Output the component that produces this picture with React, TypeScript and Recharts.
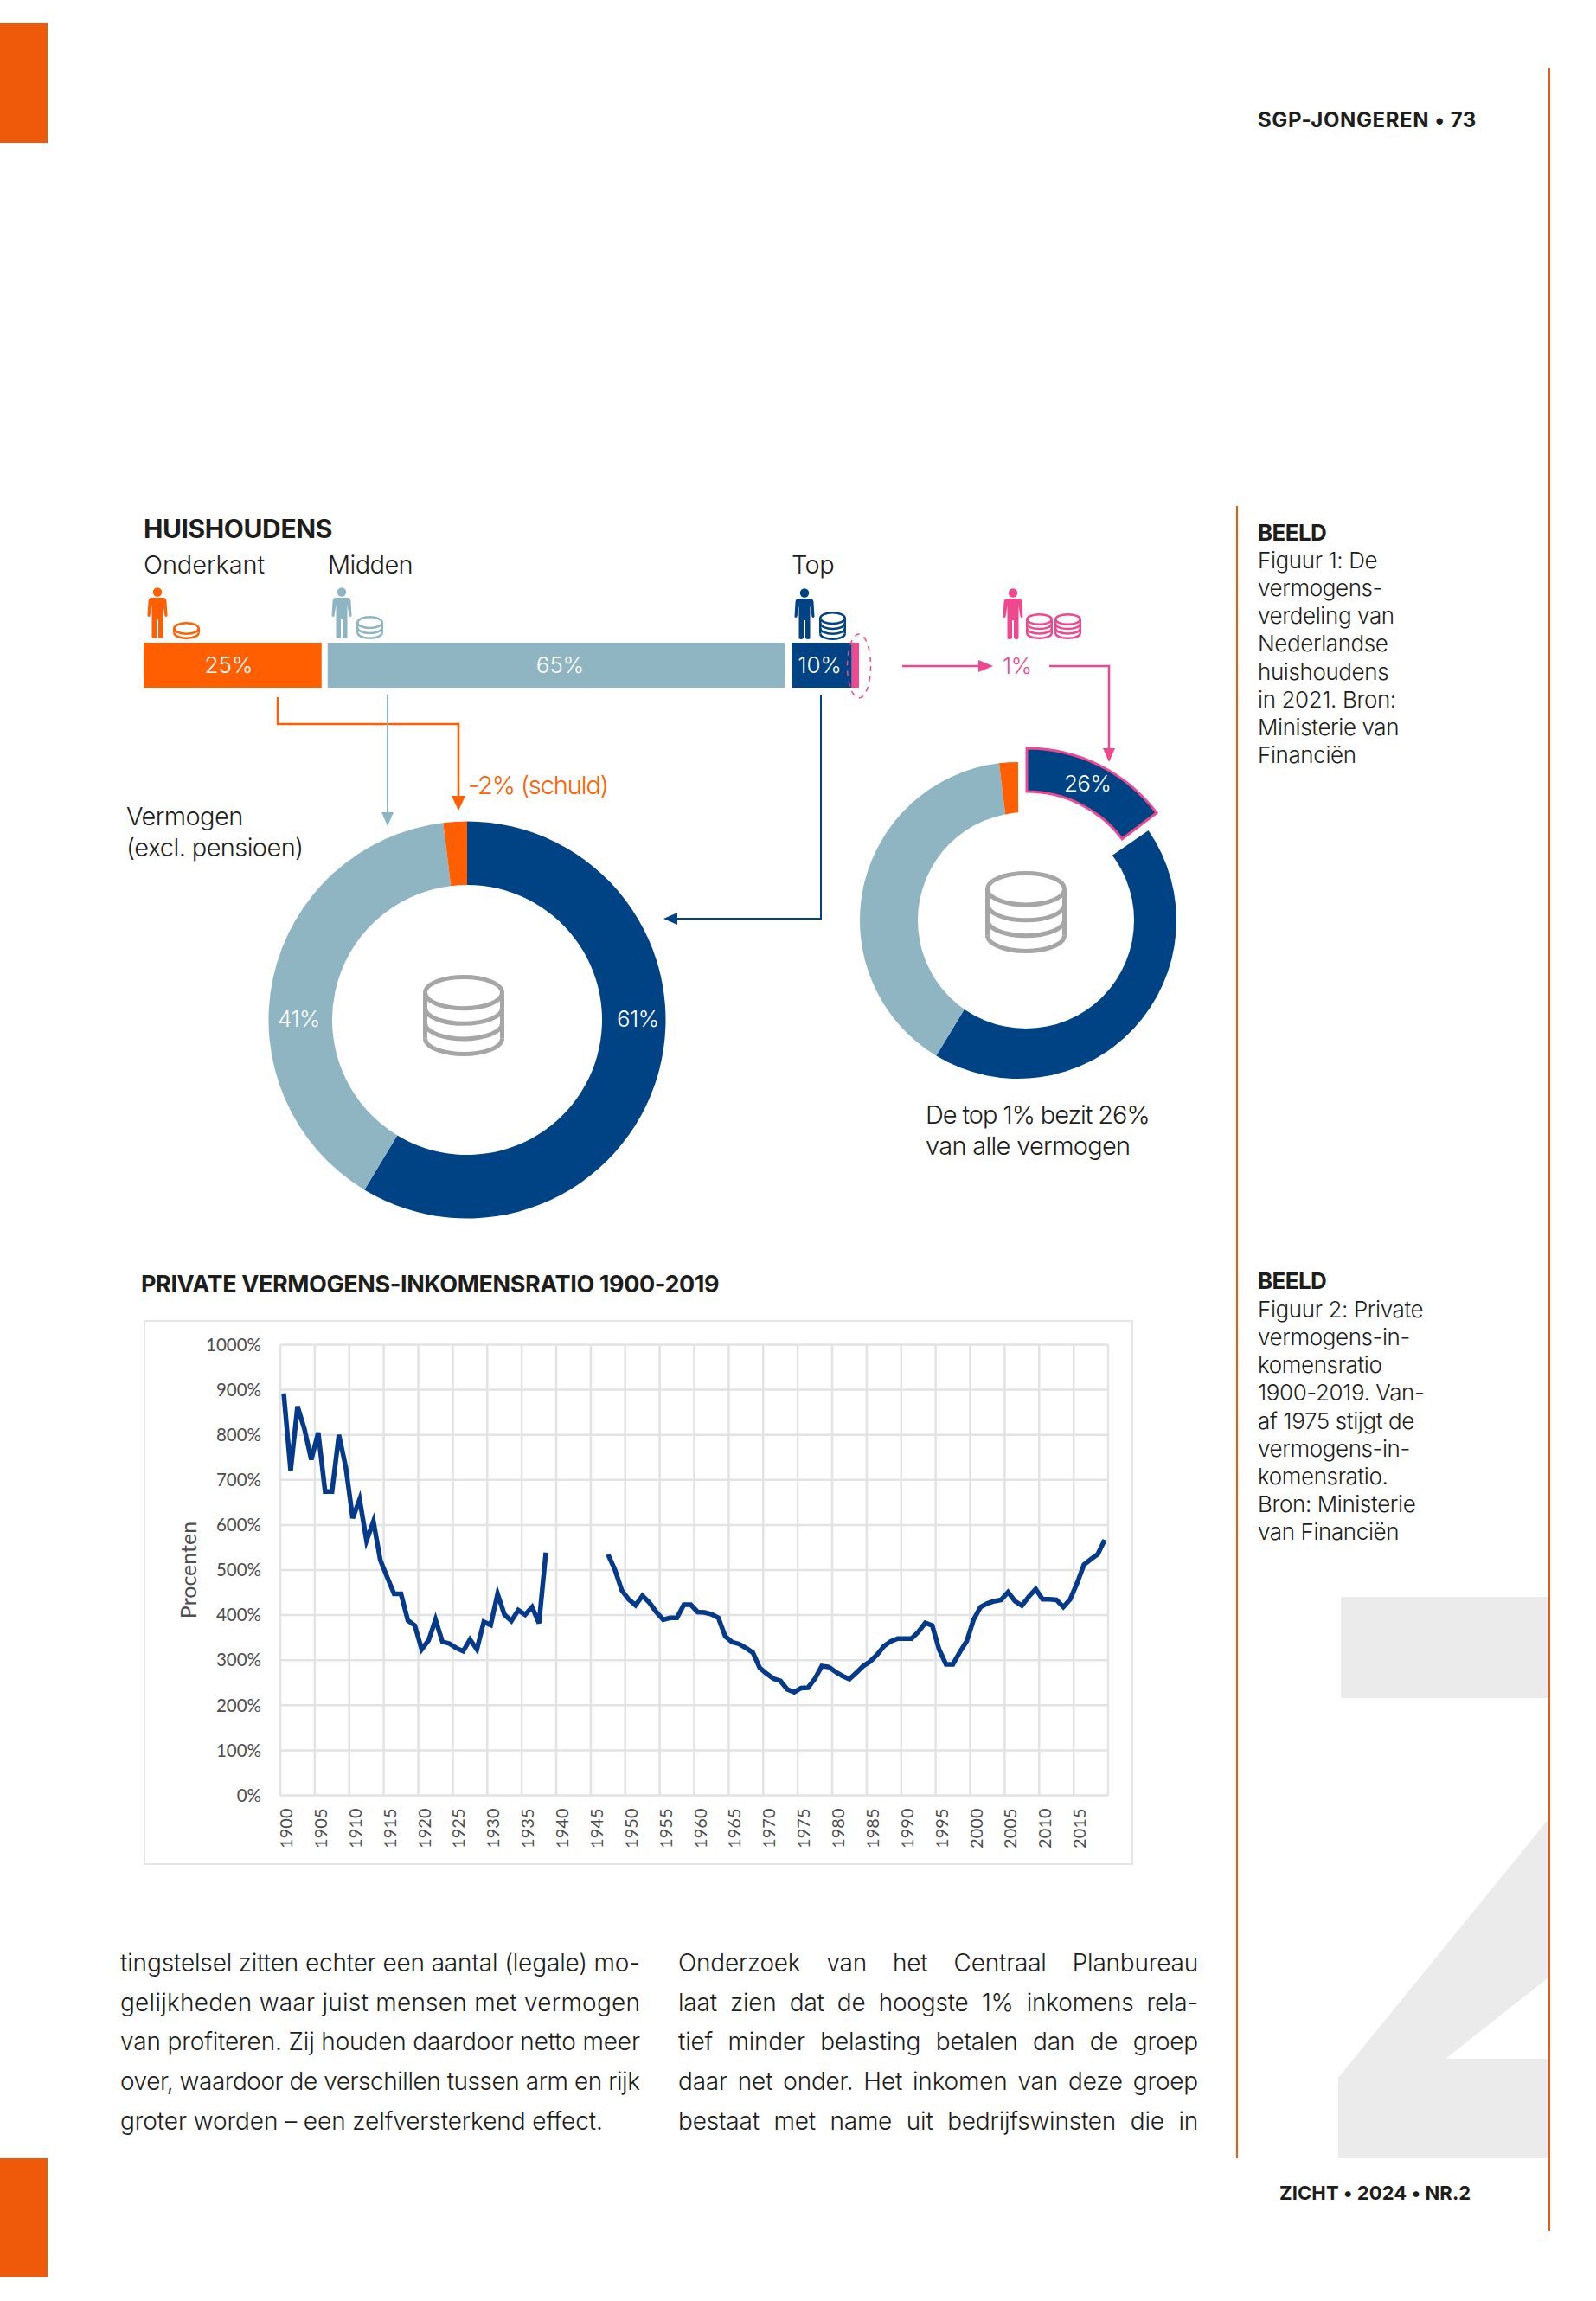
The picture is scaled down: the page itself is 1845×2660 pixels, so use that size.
import React from 'react';
import { BarChart, Bar, XAxis, YAxis, LabelList, PieChart, Pie, Cell, LineChart, Line, CartesianGrid, Rectangle } from 'recharts';

const ORANGE = '#ff5f00';
const LIGHT = '#8fb5c2';
const NAVY = '#004385';
const PINK = '#f0488f';
const TAB = '#ee5a0a';
const INK = '#1d1d1b';
const FONT = 'Inter, sans-serif';

// household shares
const shareOnderkant = 25;
const shareMidden = 65;
const shareTop = 9;
const shareTopOne = 1;
const shareLabels = { onderkant: '25%', midden: '65%', top: '10%' };

// wealth donut, left
const wealthValues = [61, 41, 2];
const wealthColors = [NAVY, LIGHT, ORANGE];

// wealth donut, right (arcs as they are drawn in the picture)
const splitValues = [16, 45, 41, 2];
const splitColors = ['none', NAVY, LIGHT, ORANGE];
const splitOutValues = [15.3, 88.7];

// wealth/income ratio per year, starting 1900; null = no data
const firstYear = 1900;
const ratio = [
  892, 721, 863, 813, 745, 805, 674, 674, 800, 728,
  615, 657, 565, 608, 522, 484, 447, 447, 388, 377,
  324, 344, 390, 341, 337, 327, 320, 346, 324, 385,
  378, 447, 401, 387, 411, 401, 418, 382, 539, null,
  null, null, null, null, null, null, null, 535, 501, 455,
  435, 422, 443, 428, 407, 390, 394, 394, 423, 423,
  407, 406, 402, 394, 353, 340, 336, 327, 317, 283,
  270, 259, 254, 235, 229, 238, 239, 259, 287, 285,
  274, 265, 258, 272, 287, 297, 312, 331, 342, 348,
  348, 348, 363, 383, 377, 324, 291, 291, 318, 342,
  390, 418, 426, 431, 434, 451, 431, 421, 441, 458,
  435, 435, 434, 418, 435, 471, 512, 524, 535, 567,
];
const yTicks = [0, 100, 200, 300, 400, 500, 600, 700, 800, 900, 1000];
const xGridTicks = [
  1899.5, 1904.5, 1909.5, 1914.5, 1919.5, 1924.5, 1929.5, 1934.5, 1939.5, 1944.5, 1949.5, 1954.5,
  1959.5, 1964.5, 1969.5, 1974.5, 1979.5, 1984.5, 1989.5, 1994.5, 1999.5, 2004.5, 2009.5, 2014.5, 2019.5,
];

const barData = [{ name: 'huishoudens', onderkant: shareOnderkant, midden: shareMidden, top: shareTop, topOne: shareTopOne }];
const lineData = ratio.map((v, i) => ({ year: firstYear + i, ratio: v }));
const wealthData = wealthValues.map((value, i) => ({ name: `w${i}`, value }));
const splitData = splitValues.map((value, i) => ({ name: `s${i}`, value }));
const splitOutData = splitOutValues.map((value, i) => ({ name: `o${i}`, value }));

const sidebar1 = ['Figuur 1: De', 'vermogens-', 'verdeling van', 'Nederlandse', 'huishoudens', 'in 2021. Bron:', 'Ministerie van', 'Financiën'];
const sidebar2 = ['Figuur 2: Private', 'vermogens-in-', 'komensratio', '1900-2019. Van-', 'af 1975 stijgt de', 'vermogens-in-', 'komensratio.', 'Bron: Ministerie', 'van Financiën'];
const bodyLeft = [
  'tingstelsel zitten echter een aantal (legale) mo-',
  'gelijkheden waar juist mensen met vermogen',
  'van profiteren. Zij houden daardoor netto meer',
  'over, waardoor de verschillen tussen arm en rijk',
  'groter worden – een zelfversterkend effect.',
];
const bodyRight = [
  'Onderzoek van het Centraal Planbureau',
  'laat zien dat de hoogste 1% inkomens rela-',
  'tief minder belasting betalen dan de groep',
  'daar net onder. Het inkomen van deze groep',
  'bestaat met name uit bedrijfswinsten die in',
];

const Txt = ({ x, y, size = 29, color = INK, weight = 350, spacing = -0.6, children }: any) => (
  <div style={{ position: 'absolute', left: x, top: y - size * 0.7, fontFamily: FONT, fontSize: size, lineHeight: `${size * 1.4}px`, color, fontWeight: weight, letterSpacing: spacing, whiteSpace: 'nowrap' }}>
    {children}
  </div>
);

const Block = ({ x, y, w, h, color }: any) => (
  <div style={{ position: 'absolute', left: x, top: y, width: w, height: h, background: color }} />
);

// little person pictogram
const Person = ({ x, y, color }: any) => (
  <svg style={{ position: 'absolute', left: x, top: y }} width="24" height="60" viewBox="0 0 24 60">
    <circle cx="12" cy="5.5" r="5.2" fill={color} />
    <path d="M5 12 H19 Q22 12 22.5 16 L23.5 33 Q22 35 20.5 33 L18.5 20 V58 Q16.5 60 13 58 V37 H11 V58 Q7.5 60 5.5 58 V20 L3.5 33 Q2 35 0.5 33 L1.5 16 Q2 12 5 12 Z" fill={color} />
  </svg>
);

// stack of coins pictogram
const Coins = ({ x, y, w, h, layers, color, stroke }: any) => {
  const ry = h / (layers + 2.2);
  const step = (h - 2 * ry - stroke) / layers;
  const rx = w / 2 - stroke / 2;
  const top = stroke / 2 + ry;
  const cx = w / 2;
  const bottom = top + step * layers;
  return (
    <svg style={{ position: 'absolute', left: x, top: y }} width={w} height={h} viewBox={`0 0 ${w} ${h}`} fill="none" stroke={color} strokeWidth={stroke}>
      <ellipse cx={cx} cy={top} rx={rx} ry={ry} />
      {Array.from({ length: layers }).map((_, i) => {
        const yy = top + step * (i + 1);
        return <path key={i} d={`M${cx - rx} ${yy} A${rx} ${ry} 0 0 0 ${cx + rx} ${yy}`} />;
      })}
      <path d={`M${cx - rx} ${top} V${bottom} M${cx + rx} ${top} V${bottom}`} />
    </svg>
  );
};

// white gaps between the bar parts
const insetBar = (left: number, right: number) => (props: any) => (
  <Rectangle x={props.x + left} y={props.y} width={props.width - left - right} height={props.height} fill={props.fill} />
);

const YearTick = ({ x, y, payload }: any) => {
  const year = payload.value + 0.5;
  if (year > 2015) return null;
  return (
    <text x={x + 1} y={y + 7} transform={`rotate(-90 ${x + 1} ${y + 7})`} textAnchor="end" dy={13} fontFamily="Lato, sans-serif" fontSize={20} fill="#4d4d4d">
      {year}
    </text>
  );
};

// arrows, connectors and the dashed ring round the 1% part of the bar
const Connectors = () => (
  <svg style={{ position: 'absolute', left: 0, top: 0 }} width={1845} height={2660} fill="none">
    <path d="M321 806 V837 H530 V924" stroke={ORANGE} strokeWidth={2.5} />
    <path d="M522 920 H538 L530 937 Z" fill={ORANGE} />
    <path d="M448 803 V944" stroke={LIGHT} strokeWidth={2} />
    <path d="M441 939 H455 L448 955 Z" fill={LIGHT} />
    <path d="M949 803 V1062 H780" stroke={NAVY} strokeWidth={2} />
    <path d="M783 1055 V1069 L767 1062 Z" fill={NAVY} />
    <path d="M1043 770 H1138" stroke={PINK} strokeWidth={2.5} />
    <path d="M1131 763 V777 L1148 770 Z" fill={PINK} />
    <path d="M1213 770 H1282 V870" stroke={PINK} strokeWidth={2.5} />
    <path d="M1275 865 H1289 L1282 881 Z" fill={PINK} />
    <ellipse cx={993} cy={770} rx={13.5} ry={37} stroke={PINK} strokeWidth={1.5} strokeDasharray="6 6" />
  </svg>
);

export default function App() {
  return (
    <div style={{ position: 'absolute', left: 0, top: 0, width: 1845, height: 2660, background: '#fff', overflow: 'hidden' }}>
      {/* page furniture */}
      <Block x={0} y={27} w={55} h={138} color={TAB} />
      <Block x={0} y={2495} w={55} h={137} color={TAB} />
      <svg style={{ position: 'absolute', left: 0, top: 0 }} width={1845} height={2660}>
        <path d="M1550 1846 H1790 V1963 H1550 Z M1547 2402 L1790 2103 V2286 L1671 2380 H1790 V2495 H1547 Z" fill="#ebebeb" />
      </svg>
      <Block x={1429} y={585} w={2} h={1910} color={TAB} />
      <Block x={1790} y={79} w={2} h={2500} color={TAB} />

      <Txt x={1454} y={139} size={24} weight={700} spacing={0.6}>SGP-JONGEREN • 73</Txt>
      <Txt x={1479} y={2535} size={22} weight={700} spacing={0.1}>ZICHT • 2024 • NR.2</Txt>

      <Txt x={1454} y={616} size={26} weight={700}>BEELD</Txt>
      {sidebar1.map((t, i) => <Txt key={t} x={1454} y={648 + i * 32.2} size={26} spacing={-0.4}>{t}</Txt>)}
      <Txt x={1454} y={1481} size={26} weight={700}>BEELD</Txt>
      {sidebar2.map((t, i) => <Txt key={t + i} x={1454} y={1514 + i * 32.2} size={26} spacing={-0.4}>{t}</Txt>)}

      {/* household bar */}
      <Txt x={166} y={611} size={30} weight={700} spacing={-0.4}>HUISHOUDENS</Txt>
      <Txt x={166} y={653} spacing={-0.1}>Onderkant</Txt>
      <Txt x={379} y={653}>Midden</Txt>
      <Txt x={915} y={653}>Top</Txt>

      <Person x={170} y={679} color={ORANGE} />
      <Coins x={200} y={719} w={31} h={20} layers={1} color={ORANGE} stroke={2.5} />
      <Person x={383} y={679} color={LIGHT} />
      <Coins x={412} y={712} w={31} h={27} layers={2} color={LIGHT} stroke={2.5} />
      <Person x={918} y={680} color={NAVY} />
      <Coins x={947} y={707} w={31} h={33} layers={3} color={NAVY} stroke={2.5} />
      <Person x={1159} y={680} color={PINK} />
      <Coins x={1186} y={709} w={31} h={30} layers={3} color={PINK} stroke={2.5} />
      <Coins x={1219} y={709} w={31} h={30} layers={3} color={PINK} stroke={2.5} />

      <div style={{ position: 'absolute', left: 166, top: 743 }}>
        <BarChart width={827} height={52} data={barData} layout="vertical" margin={{ top: 0, right: 0, bottom: 0, left: 0 }} barCategoryGap={0}>
          <XAxis type="number" domain={[0, 100]} hide />
          <YAxis type="category" dataKey="name" hide />
          <Bar dataKey="onderkant" stackId="a" fill={ORANGE} shape={insetBar(0, 1)} isAnimationActive={false}>
            <LabelList dataKey="onderkant" position="center" fill="#fff" fontFamily={FONT} fontSize={26} fontWeight={300} dx={-5} formatter={() => shareLabels.onderkant} />
          </Bar>
          <Bar dataKey="midden" stackId="a" fill={LIGHT} shape={insetBar(6, 3)} isAnimationActive={false}>
            <LabelList dataKey="midden" position="center" fill="#fff" fontFamily={FONT} fontSize={26} fontWeight={300} dx={6} formatter={() => shareLabels.midden} />
          </Bar>
          <Bar dataKey="top" stackId="a" fill={NAVY} shape={insetBar(5, 0)} isAnimationActive={false}>
            <LabelList dataKey="top" position="center" fill="#fff" fontFamily={FONT} fontSize={26} fontWeight={300} formatter={() => shareLabels.top} />
          </Bar>
          <Bar dataKey="topOne" stackId="a" fill={PINK} isAnimationActive={false} />
        </BarChart>
      </div>

      {/* left donut */}
      <Txt x={146} y={944}>Vermogen</Txt>
      <Txt x={146} y={980}>(excl. pensioen)</Txt>
      <Txt x={541} y={908} color={ORANGE} spacing={-1.1}>-2% (schuld)</Txt>
      <div style={{ position: 'absolute', left: 300, top: 939 }}>
        <PieChart width={480} height={480} margin={{ top: 0, right: 0, bottom: 0, left: 0 }}>
          <Pie data={wealthData} dataKey="value" cx={240} cy={240} innerRadius={156} outerRadius={229.5} startAngle={90} endAngle={-270} stroke="none" isAnimationActive={false}>
            {wealthData.map((d, i) => <Cell key={d.name} fill={wealthColors[i]} />)}
          </Pie>
        </PieChart>
      </div>
      <Txt x={321} y={1178} color="#fff" size={26} weight={300}>41%</Txt>
      <Txt x={713} y={1178} color="#fff" size={26} weight={300}>61%</Txt>
      <Coins x={489} y={1127} w={94} h={94} layers={3} color="#a6a6a6" stroke={5} />

      {/* right donut */}
      <div style={{ position: 'absolute', left: 977, top: 864 }}>
        <PieChart width={400} height={400} margin={{ top: 0, right: 0, bottom: 0, left: 0 }}>
          <Pie data={splitData} dataKey="value" cx={200} cy={200} innerRadius={100} outerRadius={183} startAngle={90} endAngle={-270} stroke="none" isAnimationActive={false}>
            {splitData.map((d, i) => <Cell key={d.name} fill={splitColors[i]} />)}
          </Pie>
        </PieChart>
      </div>
      <div style={{ position: 'absolute', left: 1186 - 125, top: 1064 - 125, width: 250, height: 250, borderRadius: 125, background: '#fff' }} />
      <div style={{ position: 'absolute', left: 987, top: 853 }}>
        <PieChart width={400} height={400} margin={{ top: 0, right: 0, bottom: 0, left: 0 }}>
          <Pie data={splitOutData} dataKey="value" cx={200} cy={200} innerRadius={138} outerRadius={188} startAngle={90} endAngle={-270} isAnimationActive={false}>
            <Cell fill={NAVY} stroke={PINK} strokeWidth={3} />
            <Cell fill="none" stroke="none" />
          </Pie>
        </PieChart>
      </div>
      <Txt x={1230} y={906} color="#fff" size={26} weight={300}>26%</Txt>
      <Coins x={1139} y={1007} w={94} h={95} layers={3} color="#a6a6a6" stroke={5} />
      <Txt x={1159} y={770} color={PINK} size={26} weight={300}>1%</Txt>
      <Txt x={1070} y={1289} spacing={-1.1}>De top 1% bezit 26%</Txt>
      <Txt x={1070} y={1325} spacing={-0.7}>van alle vermogen</Txt>

      <Connectors />

      {/* ratio chart */}
      <Txt x={163} y={1485} size={27} weight={700} spacing={-0.4}>PRIVATE VERMOGENS-INKOMENSRATIO 1900-2019</Txt>
      <div style={{ position: 'absolute', left: 166, top: 1526, width: 1144, height: 630, boxSizing: 'border-box', border: '2px solid #e6e6e6' }} />
      <div style={{ position: 'absolute', left: 166, top: 1526 }}>
        <LineChart width={1144} height={630} data={lineData} margin={{ top: 28.5, right: 29, bottom: 0, left: 0 }}>
          <CartesianGrid stroke="#e3e3e3" strokeWidth={2.5} />
          <XAxis dataKey="year" type="number" domain={[1899.5, 2019.5]} ticks={xGridTicks} interval={0} height={80.5} axisLine={false} tickLine={false} tick={YearTick} allowDataOverflow />
          <YAxis domain={[0, 1000]} ticks={yTicks} interval={0} width={158} axisLine={false} tickLine={false} tickMargin={16} tickFormatter={(v: number) => `${v}%`} tick={{ fontFamily: 'Lato, sans-serif', fontSize: 20.5, fill: '#4d4d4d' }} label={{ value: 'Procenten', angle: -90, position: 'insideLeft', offset: 52, fontFamily: 'Lato, sans-serif', fontSize: 25, fill: '#4d4d4d', style: { textAnchor: 'middle' } }} />
          <Line dataKey="ratio" type="linear" stroke="#053a8a" strokeWidth={5.5} dot={false} connectNulls={false} isAnimationActive={false} />
        </LineChart>
      </div>

      {/* body text */}
      <svg style={{ position: 'absolute', left: 0, top: 0 }} width={1845} height={2660}>
        {bodyLeft.map((t, i) => (
          <text key={t} x={139} y={2279 + i * 45.7} textLength={i < 4 ? 601 : 558} lengthAdjust="spacing" fontFamily={FONT} fontSize={28} fontWeight={350} fill={INK}>{t}</text>
        ))}
      </svg>
      {bodyRight.map((t, i) => (
        <div key={t} style={{ position: 'absolute', left: 784, top: 2249 + i * 45.7, width: 601, fontFamily: FONT, fontSize: 28, fontWeight: 350, lineHeight: '40px', letterSpacing: -0.2, color: INK, textAlign: 'justify', textAlignLast: 'justify' }}>{t}</div>
      ))}
    </div>
  );
}
